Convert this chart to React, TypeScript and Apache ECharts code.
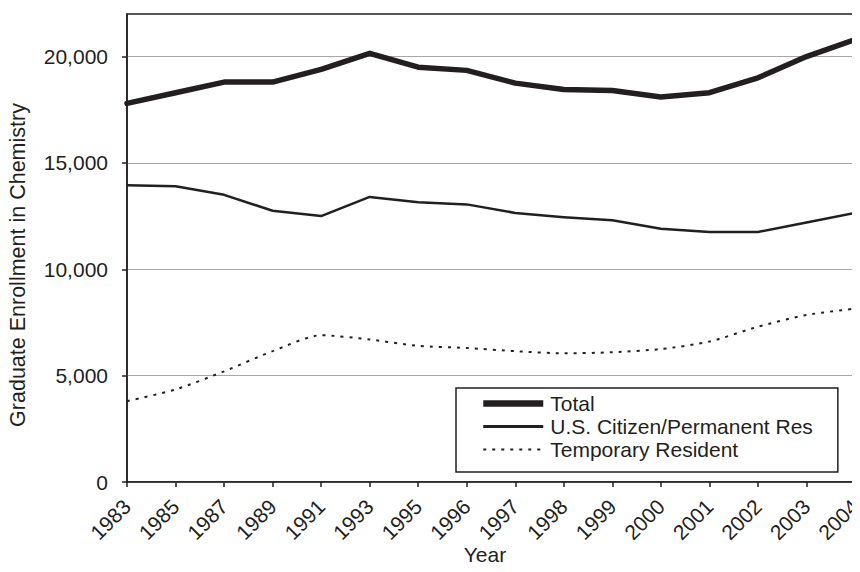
import React, { useEffect, useRef } from "react";
import * as echarts from "echarts";

const years = ["1983","1985","1987","1989","1991","1993","1995","1996","1997","1998","1999","2000","2001","2002","2003","2004"];
const total = [17800,18300,18800,18800,19400,20150,19500,19350,18750,18450,18400,18100,18300,19000,20000,20800];
const usCitizen = [13950,13900,13500,12750,12500,13400,13150,13050,12650,12450,12300,11900,11750,11750,12200,12650];
const temporary = [3800,4350,5200,6150,6900,6700,6400,6300,6150,6050,6100,6250,6600,7300,7850,8150];
const yTicks = [0,5000,10000,15000,20000];
const seriesNames = ["Total", "U.S. Citizen/Permanent Res", "Temporary Resident"];

const ink = "#231f20";
const font = "'Liberation Sans', Arial, Helvetica, sans-serif";

export default function App() {
  const ref = useRef<HTMLDivElement>(null);
  useEffect(() => {
    if (!ref.current) return;
    const chart = echarts.init(ref.current, undefined, { renderer: "svg" });
    chart.setOption({
      animation: false,
      backgroundColor: "#ffffff",
      textStyle: { fontFamily: font, color: ink },
      grid: {
        left: 127, right: 5, top: 14, bottom: 90,
        containLabel: false,
        outerBoundsMode: "none",
        show: true, borderColor: ink, borderWidth: 1.5, backgroundColor: "transparent",
      },
      legend: {
        orient: "vertical",
        left: 456, top: 388,
        padding: [5, 25, 12, 24],
        itemWidth: 60, itemHeight: 14, itemGap: 2,
        borderColor: ink, borderWidth: 1.5,
        backgroundColor: "#ffffff",
        itemStyle: { opacity: 0 },
        textStyle: { fontFamily: font, fontSize: 21, color: ink, padding: [0, 0, 0, 2] },
        data: [
          { name: seriesNames[0], lineStyle: { width: 6.5, color: ink, type: "solid", cap: "butt" } },
          { name: seriesNames[1], lineStyle: { width: 3, color: ink, type: "solid", cap: "butt" } },
          { name: seriesNames[2], lineStyle: { width: 2, color: ink, type: [3, 6] } },
        ],
      },
      xAxis: {
        type: "category",
        data: years,
        boundaryGap: false,
        name: "Year",
        nameLocation: "middle",
        nameGap: 62,
        nameMoveOverlap: false,
        nameTextStyle: { fontFamily: font, fontSize: 21, color: ink, padding: [0, 12, 0, 0] },
        axisLine: { lineStyle: { color: ink, width: 1.5 } },
        axisTick: { show: true, length: 5, alignWithLabel: true, lineStyle: { color: ink, width: 1.5 } },
        axisLabel: { rotate: 45, fontFamily: font, fontSize: 21, color: ink, margin: 21, interval: 0 },
        splitLine: { show: false },
      },
      yAxis: {
        type: "value",
        min: 0,
        max: 22000,
        interval: 5000,
        name: "Graduate Enrollment in Chemistry",
        nameLocation: "middle",
        nameGap: 98,
        nameMoveOverlap: false,
        nameTextStyle: { fontFamily: font, fontSize: 21.5, color: ink, padding: [0, 34, 0, 0] },
        axisLine: { show: true, lineStyle: { color: ink, width: 1.5 } },
        axisTick: { show: true, length: 5, customValues: yTicks, lineStyle: { color: ink, width: 1.5 } },
        axisLabel: {
          customValues: yTicks,
          fontFamily: font, fontSize: 21, color: ink, margin: 19,
          formatter: (v: number) => v.toLocaleString("en-US"),
        },
        splitLine: { show: true, lineStyle: { color: "#a6a8aa", width: 1.2 } },
      },
      series: [
        {
          name: seriesNames[0], type: "line", data: total, symbol: "none",
          lineStyle: { color: ink, width: 5.5, join: "round", cap: "round" }, itemStyle: { color: ink }, z: 3,
        },
        {
          name: seriesNames[1], type: "line", data: usCitizen, symbol: "none",
          lineStyle: { color: ink, width: 2.5, join: "round" }, itemStyle: { color: ink }, z: 3,
        },
        {
          name: seriesNames[2], type: "line", data: temporary, symbol: "none", smooth: 0.25,
          lineStyle: { color: ink, width: 2, type: [3, 6] }, itemStyle: { color: ink }, z: 3,
        },
      ],
    });
    return () => chart.dispose();
  }, []);
  return <div ref={ref} style={{ width: 860, height: 572, margin: -8 }} />;
}
